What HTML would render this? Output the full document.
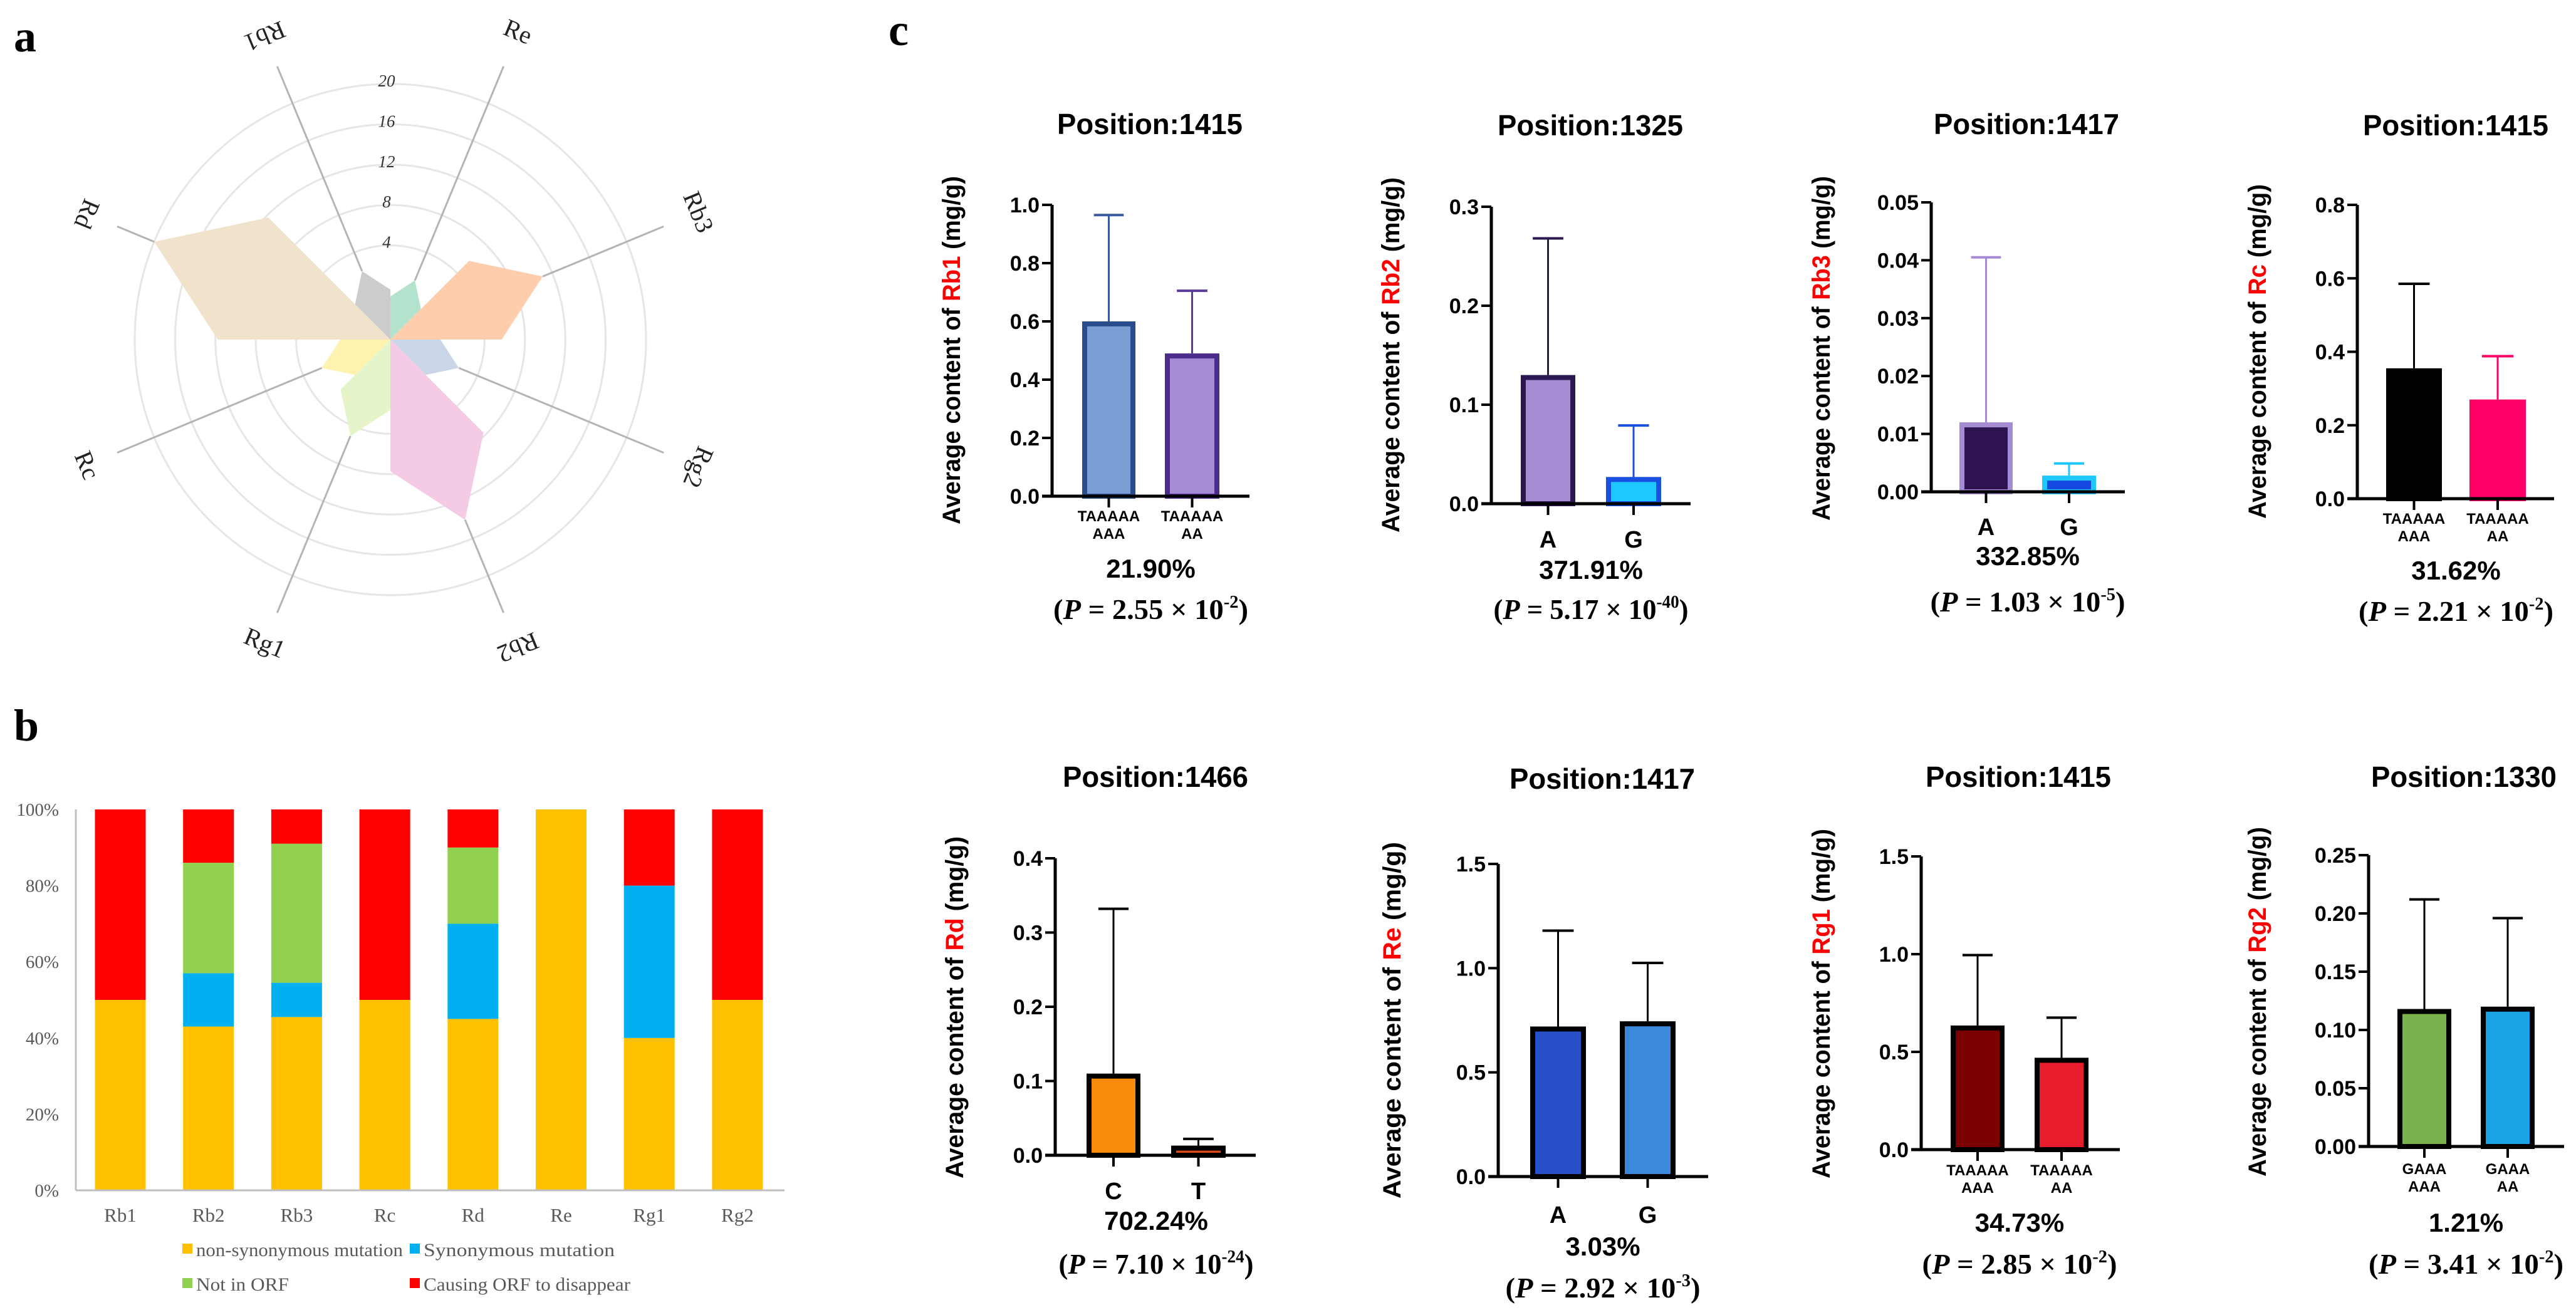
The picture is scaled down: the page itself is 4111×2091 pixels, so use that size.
<!DOCTYPE html>
<html><head><meta charset="utf-8"><style>
html,body{margin:0;padding:0;background:#fff;}
svg{display:block;}
</style></head><body>
<svg id="fig" xmlns="http://www.w3.org/2000/svg" width="4111" height="2091" viewBox="0 0 4111 2091">
<rect x="0" y="0" width="4111" height="2091" fill="#fff"/>
<text x="22" y="82" font-family="Liberation Serif, serif" font-weight="bold" font-size="72">a</text>
<text x="22" y="1182" font-family="Liberation Serif, serif" font-weight="bold" font-size="72">b</text>
<text x="1418" y="72" font-family="Liberation Serif, serif" font-weight="bold" font-size="72">c</text>
<g id="radar"></g>
<g id="stacked"></g>
<g id="bars"></g>
</svg>
<script>
// ---------- Radar data ----------
const radarNames = ['Re','Rb3','Rg2','Rb2','Rg1','Rc','Rd','Rb1'];
const radarVals = [1, 11, 2, 14, 5, 2, 20, 2];
const radarRings = [4, 8, 12, 16, 20];
// ---------- Stacked bar data ----------
const stackCats = ['Rb1','Rb2','Rb3','Rc','Rd','Re','Rg1','Rg2'];
const nonSyn = [50, 43, 45.5, 50, 45, 100, 40, 50];
const synMut = [0, 14, 9, 0, 25, 0, 40, 0];
const notOrf = [0, 29, 36.5, 0, 20, 0, 0, 0];
const causing = [50, 14, 9, 50, 10, 0, 20, 50];
const stackTicks = ['0%','20%','40%','60%','80%','100%'];
// ---------- Bar panel data ----------
const compounds = ['Rb1','Rb2','Rb3','Rc','Rd','Re','Rg1','Rg2'];
const positions = ['Position:1415','Position:1325','Position:1417','Position:1415','Position:1466','Position:1417','Position:1415','Position:1330'];
const groupLabels = [[['TAAAAA','AAA'],['TAAAAA','AA']],[['A'],['G']],[['A'],['G']],[['TAAAAA','AAA'],['TAAAAA','AA']],[['C'],['T']],[['A'],['G']],[['TAAAAA','AAA'],['TAAAAA','AA']],[['GAAA','AAA'],['GAAA','AA']]];
const means = [[0.60,0.49],[0.13,0.027],[0.012,0.0028],[0.355,0.27],[0.11,0.013],[0.72,0.745],[0.635,0.47],[0.118,0.12]];
const errTops = [[0.965,0.705],[0.268,0.079],[0.0405,0.0049],[0.585,0.388],[0.332,0.022],[1.18,1.025],[0.995,0.675],[0.212,0.196]];
const yMax = [1.0,0.3,0.05,0.8,0.4,1.5,1.5,0.25];
const yStep = [0.2,0.1,0.01,0.2,0.1,0.5,0.5,0.05];
const pctLabels = ['21.90%','371.91%','332.85%','31.62%','702.24%','3.03%','34.73%','1.21%'];
const pMant = ['2.55','5.17','1.03','2.21','7.10','2.92','2.85','3.41'];
const pExp = ['-2','-40','-5','-2','-24','-3','-2','-2'];

const NS='http://www.w3.org/2000/svg';
function mk(tag, attrs, parent){const e=document.createElementNS(NS,tag);for(const k in attrs)e.setAttribute(k,attrs[k]);parent.appendChild(e);return e;}

// ---------- Radar ----------
(function(){
  const g=document.getElementById('radar');
  const cx=623, cy=542;
  const rOf=v=>86+16.1*v;
  const pastel=['#B3E2CD','#FDCDAC','#CBD5E8','#F4CAE4','#E6F5C9','#FFF2AE','#F1E2CC','#CCCCCC'];
  radarRings.forEach(v=>{
    const c=mk('circle',{cx:cx,cy:cy,r:rOf(v),fill:'none',stroke:'#e6e6e6','stroke-width':3},g);
    
    
  });
  const pt=(ang,r)=>{const a=ang*Math.PI/180;return [cx+r*Math.sin(a), cy-r*Math.cos(a)];};
  radarNames.forEach((n,i)=>{
    const th=22.5+45*i;
    const R=rOf(radarVals[i]);
    const p1=pt(th-22.5,R*0.675), p2=pt(th,R), p3=pt(th+22.5,R*0.675);
    const poly=mk('polygon',{points:[[cx,cy],p1,p2,p3].map(p=>p.join(',')).join(' '),fill:pastel[i]},g);
    
    
  });
  radarNames.forEach((n,i)=>{
    const th=22.5+45*i;
    const e=pt(th,472), s=pt(th,rOf(radarVals[i]));
    const l=mk('line',{x1:s[0],y1:s[1],x2:e[0],y2:e[1],stroke:'#b4b4b4','stroke-width':3},g);
    
    
    const lp=pt(th,528);
    const rot=th%180;
    const t=mk('text',{x:lp[0],y:lp[1],'font-family':'Liberation Serif, serif','font-size':40,fill:'#222','text-anchor':'middle','dominant-baseline':'middle',transform:`rotate(${rot} ${lp[0]} ${lp[1]})`},g);
    t.textContent=n;
    
    
  });
  radarRings.forEach(v=>{
    const t=mk('text',{x:cx-6,y:cy-rOf(v)+4,'font-family':'Liberation Serif, serif','font-style':'italic','font-size':27,fill:'#333','text-anchor':'middle'},g);
    t.textContent=v;
    
    
  });
})();

// ---------- Stacked bar ----------
(function(){
  const g=document.getElementById('stacked');
  const ax=121, y0=1900, y100=1292, step=140.7, c0=192, bw=81;
  const yS=v=>y0-(v/100)*(y0-y100);
  const cols=['#FFC000','#00B0F0','#92D050','#FF0000'];
  const series=[nonSyn,synMut,notOrf,causing];
  stackCats.forEach((c,i)=>{
    const cx=c0+step*i; let acc=0;
    series.forEach((s,k)=>{
      const v=s[i]; if(v<=0)return;
      const r=mk('rect',{x:cx-bw/2,y:yS(acc+v),width:bw,height:yS(acc)-yS(acc+v),fill:cols[k]},g);
      
      
      acc+=v;
    });
    const t=mk('text',{x:cx,y:1950,'font-family':'Liberation Serif, serif','font-size':31,fill:'#595959','text-anchor':'middle'},g);
    t.textContent=c;
    
    
  });
  const a1=mk('line',{x1:ax,y1:y100,x2:ax,y2:y0,stroke:'#bfbfbf','stroke-width':3},g);
  
  
  const a2=mk('line',{x1:ax,y1:y0,x2:1252,y2:y0,stroke:'#bfbfbf','stroke-width':3},g);
  
  
  stackTicks.forEach((tk,i)=>{
    const t=mk('text',{x:94,y:yS(i*20)+10,'font-family':'Liberation Serif, serif','font-size':29,fill:'#595959','text-anchor':'end'},g);
    t.textContent=tk;
    
    
  });
  const leg=[['non-synonymous mutation',291,2005,330],['Synonymous mutation',654,2005,305],['Not in ORF',291,2060,148],['Causing ORF to disappear',654,2060,330]];
  leg.forEach((L,k)=>{
    const r=mk('rect',{x:L[1],y:L[2]-20,width:16,height:16,fill:cols[k]},g);
    
    
    const t=mk('text',{x:L[1]+22,y:L[2],'font-family':'Liberation Serif, serif','font-size':30,fill:'#595959',textLength:L[3],lengthAdjust:'spacingAndGlyphs'},g);
    t.textContent=L[0];
    
    
  });
})();

// ---------- Bar panels ----------
const layout=[
 {ax:1679,top:327,bot:792,b:[[1727,1812],[1859,1946]],end:1994,tx:1835,ty:214,ylx:1519,yl:[281,837],labY:832,pctY:922,pY:988},
 {ax:2380,top:330,bot:804,b:[[2427,2514],[2563,2651]],end:2698,tx:2538,ty:216,ylx:2220,yl:[283,850],labY:864,pctY:924,pY:988},
 {ax:3082,top:323,bot:785,b:[[3127,3212],[3259,3345]],end:3391,tx:3234,ty:214,ylx:2907,yl:[281,831],labY:844,pctY:902,pY:976},
 {ax:3762,top:327,bot:796,b:[[3808,3897],[3941,4031]],end:4076,tx:3919,ty:216,ylx:3603,yl:[294,828],labY:836,pctY:925,pY:991},
 {ax:1684,top:1370,bot:1844,b:[[1734,1820],[1869,1956]],end:2004,tx:1844,ty:1256,ylx:1524,yl:[1335,1881],labY:1904,pctY:1963,pY:2033},
 {ax:2391,top:1379,bot:1878,b:[[2442,2531],[2585,2674]],end:2726,tx:2557,ty:1259,ylx:2222,yl:[1344,1913],labY:1942,pctY:2004,pY:2071},
 {ax:3066,top:1367,bot:1835,b:[[3113,3199],[3247,3333]],end:3383,tx:3221,ty:1256,ylx:2907,yl:[1323,1881],labY:1876,pctY:1966,pY:2033},
 {ax:3780,top:1365,bot:1830,b:[[3826,3912],[3959,4045]],end:4092,tx:3932,ty:1256,ylx:3603,yl:[1320,1878],labY:1874,pctY:1966,pY:2033}
];
const styles=[
 [{f:'#7B9FD4',s:'#2B4C8C',e:'#3A5BA0'},{f:'#A58BD3',s:'#4B2C8A',e:'#5B3A9A'}],
 [{f:'#A58BD3',s:'#2B1850',e:'#2B1850'},{f:'#1EC8FF',s:'#1A50E0',e:'#1A50E0'}],
 [{f:'#2D1450',s:'#A58BD3',e:'#A58BD3'},{f:'#1448E0',s:'#1EC8FF',e:'#1EC8FF'}],
 [{f:'#000000',s:'#000000',e:'#000000'},{f:'#FF0066',s:'#FF0066',e:'#FF0066'}],
 [{f:'#FA8A0A',s:'#000',e:'#000'},{f:'#E04A1A',s:'#000',e:'#000'}],
 [{f:'#2850C8',s:'#000',e:'#000'},{f:'#3C88DC',s:'#000',e:'#000'}],
 [{f:'#7A0000',s:'#000',e:'#000'},{f:'#E81C2C',s:'#000',e:'#000'}],
 [{f:'#7AB24E',s:'#000',e:'#000'},{f:'#1AA4E8',s:'#000',e:'#000'}]
];
(function(){
  const root=document.getElementById('bars');
  compounds.forEach((cmp,i)=>{
    const L=layout[i];
    const g=mk('g',{},root);
    
    
    const yS=v=>L.bot-(v/yMax[i])*(L.bot-L.top);
    const dec=Math.max(1,(String(yStep[i]).split('.')[1]||'').length);
    const tt=mk('text',{x:L.tx,y:L.ty,'font-family':'Liberation Sans, sans-serif','font-weight':'bold','font-size':46,'text-anchor':'middle',textLength:296,lengthAdjust:'spacingAndGlyphs'},g);
    tt.textContent=positions[i];
    
    
    const ym=(L.yl[0]+L.yl[1])/2, yl=L.yl[1]-L.yl[0];
    const yt=mk('text',{x:L.ylx,y:ym,'font-family':'Liberation Sans, sans-serif','font-weight':'bold','font-size':40,'text-anchor':'middle','dominant-baseline':'central',textLength:yl,lengthAdjust:'spacingAndGlyphs',transform:`rotate(-90 ${L.ylx} ${ym})`},g);
    const s1=mk('tspan',{},yt); s1.textContent='Average content of ';
    const s2=mk('tspan',{fill:'#FF0000'},yt); s2.textContent=cmp;
    const s3=mk('tspan',{},yt); s3.textContent=' (mg/g)';
    
    
    const n=Math.round(yMax[i]/yStep[i]);
    for(let k=0;k<=n;k++){
      const v=k*yStep[i], y=yS(v);
      const tl=mk('line',{x1:L.ax-16,y1:y,x2:L.ax,y2:y,stroke:'#000','stroke-width':4},g);
      
      
      const tx=mk('text',{x:L.ax-20,y:y+12,'font-family':'Liberation Sans, sans-serif','font-weight':'bold','font-size':34,'text-anchor':'end'},g);
      tx.textContent=v.toFixed(dec);
      
      
    }
    [0,1].forEach(j=>{
      const st=styles[i][j], bx=L.b[j], bc=(bx[0]+bx[1])/2, bwid=bx[1]-bx[0];
      const yTop=yS(means[i][j]), yErr=yS(errTops[i][j]);
      const el=mk('line',{x1:bc,y1:yTop,x2:bc,y2:yErr,stroke:st.e,'stroke-width':3},g);
      
      
      const ec=mk('line',{x1:bc-bwid*0.28,y1:yErr,x2:bc+bwid*0.28,y2:yErr,stroke:st.e,'stroke-width':4},g);
      
      
      const r=mk('rect',{x:bx[0]+4,y:yTop+4,width:bwid-8,height:Math.max(0,L.bot-yTop-4),fill:st.f,stroke:st.s,'stroke-width':8},g);
      
      
      const tk=mk('line',{x1:bc,y1:L.bot,x2:bc,y2:L.bot+18,stroke:'#000','stroke-width':4},g);
      
      
      const lines=groupLabels[i][j];
      lines.forEach((ln,m)=>{
        const big=lines.length===1;
        const t=mk('text',{x:bc,y:big?L.labY+10:L.labY+m*28,'font-family':'Liberation Sans, sans-serif','font-weight':'bold','font-size':big?38:24,'text-anchor':'middle'},g);
        t.textContent=ln;
        
        
      });
    });
    const ya=mk('line',{x1:L.ax,y1:L.top,x2:L.ax,y2:L.bot+2,stroke:'#000','stroke-width':5},g);
    
    
    const xa=mk('line',{x1:L.ax-16,y1:L.bot,x2:L.end,y2:L.bot,stroke:'#000','stroke-width':5},g);
    
    
    const cx=(L.b[0][0]+L.b[1][1])/2;
    const pc=mk('text',{x:cx,y:L.pctY,'font-family':'Liberation Sans, sans-serif','font-weight':'bold','font-size':42,'text-anchor':'middle'},g);
    pc.textContent=pctLabels[i];
    
    
    const pv=mk('text',{x:cx,y:L.pY,'font-family':'Liberation Serif, serif','font-weight':'bold','font-size':46,'text-anchor':'middle',textLength:311,lengthAdjust:'spacingAndGlyphs'},g);
    const a=mk('tspan',{},pv); a.textContent='(';
    const b=mk('tspan',{'font-style':'italic'},pv); b.textContent='P';
    const c=mk('tspan',{},pv); c.textContent=' = '+pMant[i]+' \u00D7 10';
    const d=mk('tspan',{dy:-18,'font-size':28},pv); d.textContent=pExp[i];
    const e=mk('tspan',{dy:18},pv); e.textContent=')';
    
    
  });
})();
</script>
</body></html>
